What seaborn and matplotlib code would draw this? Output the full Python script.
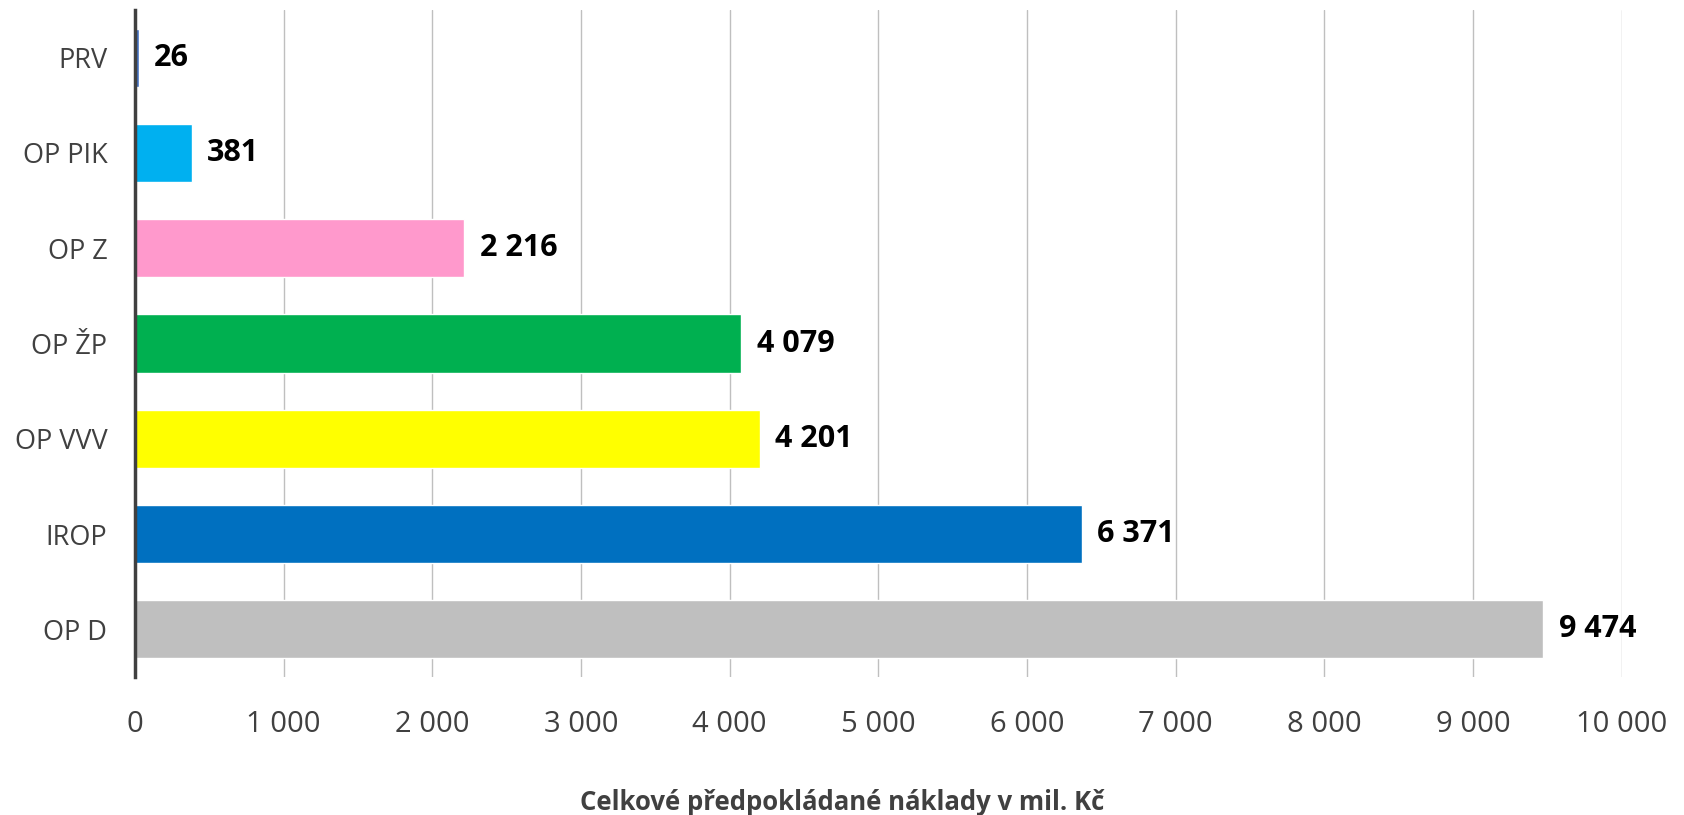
import matplotlib
matplotlib.use("Agg")
import matplotlib.pyplot as plt
import seaborn as sns
import pandas as pd
from matplotlib.ticker import FuncFormatter

programs = ["PRV", "OP PIK", "OP Z", "OP ŽP", "OP VVV", "IROP", "OP D"]
costs = [26, 381, 2216, 4079, 4201, 6371, 9474]
colors = ["#4472C4", "#00B0F0", "#FF99CC", "#00B050", "#FFFF00", "#0070C0", "#BFBFBF"]
x_ticks = [0, 1000, 2000, 3000, 4000, 5000, 6000, 7000, 8000, 9000, 10000]


def fmt(v, pos=None):
    return "{:,}".format(int(v)).replace(",", " ")


df = pd.DataFrame({"program": programs, "cost": costs})

sns.set_style("white")
plt.rcParams["font.family"] = ["Open Sans", "DejaVu Sans"]

fig = plt.figure(figsize=(16.84, 8.15), dpi=100)
ax = fig.add_axes([0.0802, 0.1693, 0.8828, 0.8184])

sns.barplot(data=df, y="program", x="cost", hue="program", palette=colors,
            legend=False, orient="h", width=0.61, saturation=1, ax=ax)

ax.set_xlim(0, 10000)
ax.set_ylim(6.5, -0.5)
ax.set_xticks(x_ticks)
ax.xaxis.set_major_formatter(FuncFormatter(fmt))
ax.grid(axis="x", color="#bfbfbf", linewidth=1)
ax.set_axisbelow(True)

for s in ["top", "right", "bottom"]:
    ax.spines[s].set_visible(False)
ax.spines["left"].set_color("#404040")
ax.spines["left"].set_linewidth(2.5)
ax.spines["left"].set_zorder(5)

ax.tick_params(axis="x", length=0, pad=24, labelsize=21, labelcolor="#404040")
ax.tick_params(axis="y", length=0, pad=20, labelsize=19.5, labelcolor="#404040")

for i, v in enumerate(costs):
    ax.annotate(fmt(v), xy=(v, i), xytext=(11, 0), textcoords="offset points",
                va="center", ha="left", fontsize=22, fontweight="bold", color="black")

ax.set_ylabel("")
ax.set_xlabel("Celkové předpokládané náklady v mil. Kč", fontsize=18.5,
              fontweight="bold", color="#404040")
ax.xaxis.set_label_coords(0.4755, -0.168)

plt.savefig("out.png", dpi=100)
